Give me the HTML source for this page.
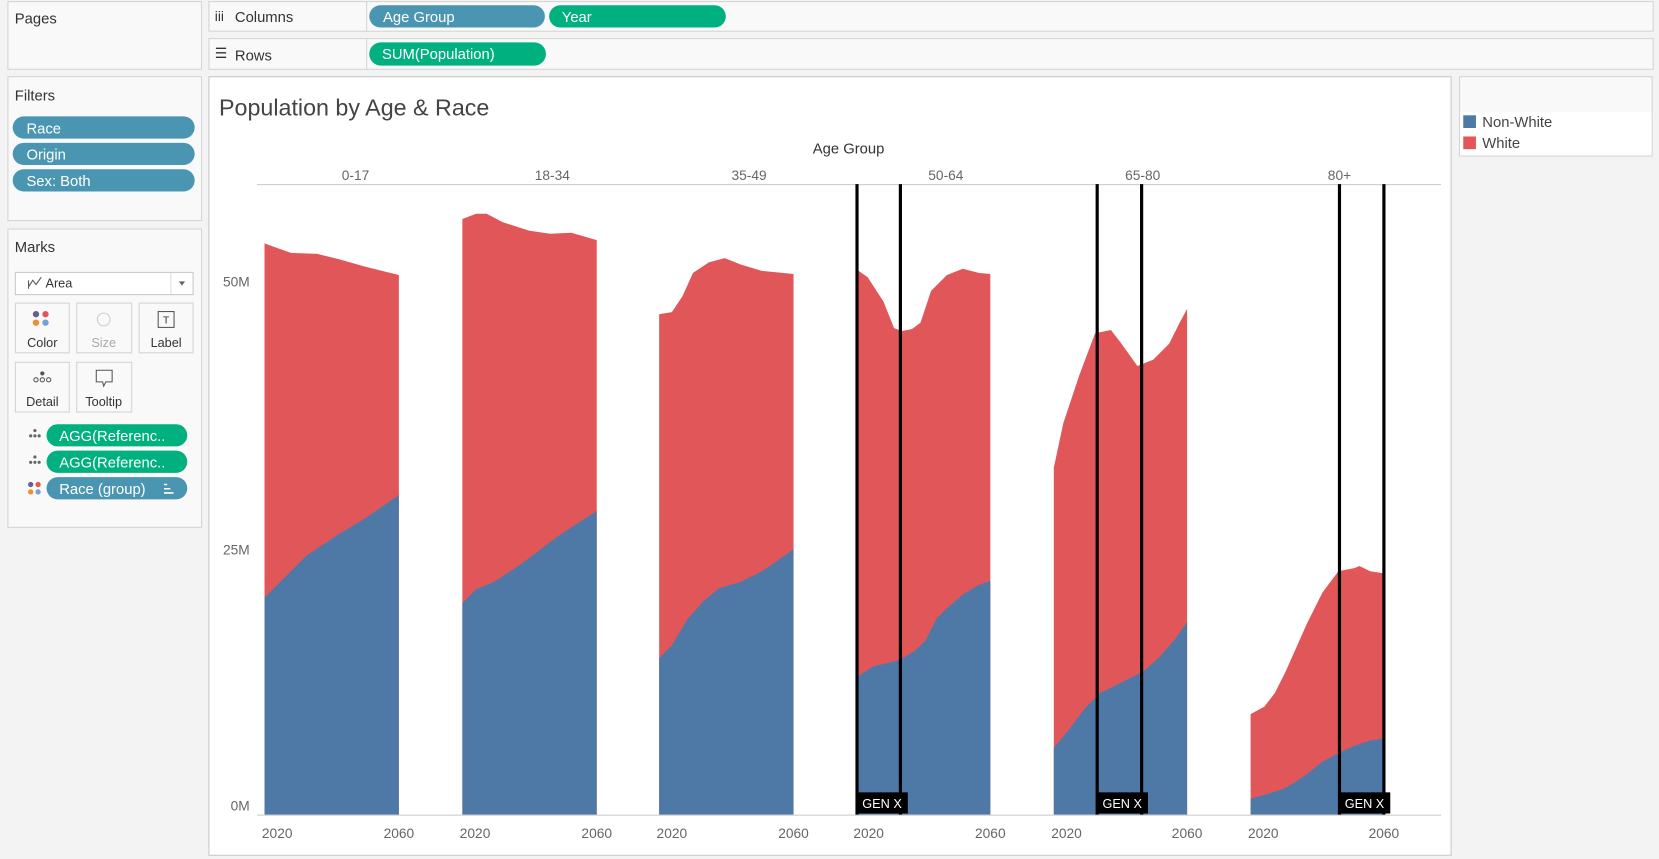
<!DOCTYPE html>
<html><head><meta charset="utf-8"><style>
html,body{margin:0;padding:0;background:#f3f3f3;overflow:hidden}
svg{display:block}
text{font-family:"Liberation Sans",sans-serif}
</style></head><body>
<svg width="1659" height="859" viewBox="0 0 1568 812" preserveAspectRatio="none" xmlns="http://www.w3.org/2000/svg">
<rect x="0" y="0" width="1568" height="812" fill="#f3f3f3"/>
<!-- Pages -->
<rect x="7.5" y="1.5" width="183" height="64" fill="#f9f9f9" stroke="#d4d4d4"/>
<text x="14" y="22" font-size="14" fill="#333">Pages</text>
<!-- Columns/Rows -->
<rect x="197.5" y="1.5" width="1365" height="28" fill="#f9f9f9" stroke="#d4d4d4"/>
<line x1="346.5" y1="1" x2="346.5" y2="30" stroke="#d4d4d4"/>
<text x="203" y="20" font-size="13" fill="#333">iii</text>
<text x="222" y="21" font-size="14" fill="#333">Columns</text>
<rect x="349" y="5" width="166" height="21" rx="10.5" fill="#4a96b2"/>
<text x="362" y="21" font-size="14" fill="#fff">Age Group</text>
<rect x="519" y="5" width="167" height="21" rx="10.5" fill="#00b07e"/>
<text x="531" y="21" font-size="14" fill="#fff">Year</text>
<rect x="197.5" y="36.5" width="1365" height="29" fill="#f9f9f9" stroke="#d4d4d4"/>
<line x1="346.5" y1="36" x2="346.5" y2="66" stroke="#d4d4d4"/>
<text x="203" y="55" font-size="13" fill="#333">☰</text>
<text x="222" y="57" font-size="14" fill="#333">Rows</text>
<rect x="349" y="40" width="167" height="22" rx="11" fill="#00b07e"/>
<text x="361" y="56" font-size="14" fill="#fff">SUM(Population)</text>
<!-- Filters -->
<rect x="7.5" y="72.5" width="183" height="136" fill="#f9f9f9" stroke="#d4d4d4"/>
<text x="14" y="95" font-size="14" fill="#333">Filters</text>
<rect x="12" y="110" width="172" height="21" rx="10.5" fill="#4a96b2"/>
<text x="25" y="126" font-size="14" fill="#fff">Race</text>
<rect x="12" y="135" width="172" height="21" rx="10.5" fill="#4a96b2"/>
<text x="25" y="151" font-size="14" fill="#fff">Origin</text>
<rect x="12" y="160" width="172" height="21" rx="10.5" fill="#4a96b2"/>
<text x="25" y="176" font-size="14" fill="#fff">Sex: Both</text>
<!-- Marks -->
<rect x="7.5" y="216.5" width="183" height="282" fill="#f9f9f9" stroke="#d4d4d4"/>
<text x="14" y="238" font-size="14" fill="#333">Marks</text>
<rect x="14.5" y="257.5" width="168" height="21" fill="#fff" stroke="#c8c8c8"/>
<line x1="161.5" y1="258" x2="161.5" y2="278" stroke="#ddd"/>
<path d="M27 273 L27 265 M27 271 L31 265 L34 269 L39 262" stroke="#555" fill="none"/>
<text x="43" y="272" font-size="12" fill="#333">Area</text>
<path d="M169 266 L175 266 L172 270 Z" fill="#666"/>
<g font-size="12" fill="#333" text-anchor="middle">
<rect x="14.5" y="286.5" width="51" height="47" fill="#f9f9f9" stroke="#d4d4d4"/>
<circle cx="34" cy="297" r="3" fill="#6b5b95"/><circle cx="43" cy="297" r="3" fill="#e15759"/><circle cx="34" cy="305" r="3" fill="#f28e2b"/><circle cx="43" cy="305" r="3" fill="#76a1d6"/>
<text x="40" y="328">Color</text>
<rect x="72.5" y="286.5" width="52" height="47" fill="#f9f9f9" stroke="#d4d4d4"/>
<circle cx="98" cy="302" r="6" fill="none" stroke="#ccc"/>
<text x="98" y="328" fill="#aaa">Size</text>
<rect x="131.5" y="286.5" width="51" height="47" fill="#f9f9f9" stroke="#d4d4d4"/>
<rect x="149.5" y="294.5" width="15" height="15" fill="none" stroke="#555"/><text x="157" y="306" font-size="10">T</text>
<text x="157" y="328">Label</text>
<rect x="14.5" y="342.5" width="51" height="47" fill="#f9f9f9" stroke="#d4d4d4"/>
<circle cx="40" cy="353" r="2" fill="#555"/><circle cx="34" cy="359" r="2" fill="none" stroke="#555"/><circle cx="40" cy="359" r="2" fill="none" stroke="#555"/><circle cx="46" cy="359" r="2" fill="none" stroke="#555"/>
<text x="40" y="384">Detail</text>
<rect x="72.5" y="342.5" width="52" height="47" fill="#f9f9f9" stroke="#d4d4d4"/>
<path d="M91 350 H106 V361 H100 L98 365 L97 361 H91 Z" fill="none" stroke="#555"/>
<text x="98" y="384">Tooltip</text>
</g>
<g fill="#666"><circle cx="33" cy="407" r="1.5"/><circle cx="29" cy="412" r="1.5"/><circle cx="33" cy="412" r="1.5"/><circle cx="37" cy="412" r="1.5"/>
<circle cx="33" cy="432" r="1.5"/><circle cx="29" cy="437" r="1.5"/><circle cx="33" cy="437" r="1.5"/><circle cx="37" cy="437" r="1.5"/></g>
<rect x="44" y="401" width="133" height="21" rx="10.5" fill="#00b07e"/>
<text x="56" y="417" font-size="14" fill="#fff">AGG(Referenc..</text>
<rect x="44" y="426" width="133" height="21" rx="10.5" fill="#00b07e"/>
<text x="56" y="442" font-size="14" fill="#fff">AGG(Referenc..</text>
<circle cx="29" cy="458" r="2.5" fill="#6b5b95"/><circle cx="36" cy="458" r="2.5" fill="#e15759"/><circle cx="29" cy="465" r="2.5" fill="#f28e2b"/><circle cx="36" cy="465" r="2.5" fill="#76a1d6"/>
<rect x="44" y="451" width="133" height="21" rx="10.5" fill="#4a96b2"/>
<text x="56" y="467" font-size="14" fill="#fff">Race (group)</text>
<path d="M155 458 h3 M155 462 h6 M155 466 h9" stroke="#fff" stroke-width="1.5"/>
<!-- Chart panel -->
<rect x="197.5" y="72.5" width="1174" height="736" fill="#fff" stroke="#c8c8c8"/>
<text x="207" y="109" font-size="22" fill="#444">Population by Age &amp; Race</text>
<text x="802" y="145" font-size="14" fill="#333" text-anchor="middle">Age Group</text>
<g font-size="13" fill="#666" text-anchor="middle">
<text x="336" y="170">0-17</text><text x="522" y="170">18-34</text><text x="708" y="170">35-49</text>
<text x="894" y="170">50-64</text><text x="1080" y="170">65-80</text><text x="1266" y="170">80+</text>
</g>
<line x1="243" y1="174.5" x2="1362" y2="174.5" stroke="#c8c8c8"/>
<g font-size="13" fill="#666" text-anchor="end">
<text x="236" y="271">50M</text><text x="236" y="524">25M</text><text x="236" y="766">0M</text>
</g>
<!-- areas: red -->
<g fill="#e15759">
<path d="M250 770 L250 230 258 233 275 239 300 240 320 245 345 252 377 260 377 770Z"/>
<path d="M437 770 L437 207 450 202 460 202 475 210 500 218 520 221 540 220 564 227 564 770Z"/>
<path d="M623 770 L623 297 635 295 645 280 655 258 670 248 685 244 700 250 720 256 750 259 750 770Z"/>
<path d="M810 770 L810 255 820 262 835 285 845 310 852 313 862 311 870 305 880 275 895 260 910 254 925 258 936 259 936 770Z"/>
<path d="M996 770 L996 442 1005 400 1020 355 1035 315 1050 312 1060 325 1075 346 1090 340 1105 325 1115 305 1122 292 1122 770Z"/>
<path d="M1182 770 L1182 675 1195 668 1205 655 1215 635 1235 590 1250 560 1265 540 1280 537 1285 535 1295 540 1308 542 1308 770Z"/>
</g>
<g fill="#4e79a7">
<path d="M250 770 L250 565 260 555 290 525 320 505 345 490 377 468 377 770Z"/>
<path d="M437 770 L437 570 450 557 467 550 490 535 510 520 530 505 564 483 564 770Z"/>
<path d="M623 770 L623 622 635 610 650 585 665 568 680 556 700 550 720 540 735 530 750 519 750 770Z"/>
<path d="M810 770 L810 640 825 630 850 624 865 615 875 605 885 585 895 575 910 562 925 553 936 549 936 770Z"/>
<path d="M996 770 L996 707 1010 690 1025 670 1040 655 1060 645 1080 635 1095 622 1110 605 1122 588 1122 770Z"/>
<path d="M1182 770 L1182 755 1200 750 1215 745 1235 732 1250 720 1265 712 1280 705 1295 700 1308 698 1308 770Z"/>
</g>
<line x1="243" y1="770.5" x2="1362" y2="770.5" stroke="#c8c8c8"/>
<g stroke="#000" stroke-width="3">
<line x1="810" y1="174" x2="810" y2="770"/><line x1="851" y1="174" x2="851" y2="770"/>
<line x1="1037" y1="174" x2="1037" y2="770"/><line x1="1079" y1="174" x2="1079" y2="770"/>
<line x1="1266" y1="174" x2="1266" y2="770"/><line x1="1308" y1="174" x2="1308" y2="770"/>
</g>
<g>
<rect x="810" y="749" width="48" height="20" fill="#000"/><text x="815" y="764" font-size="12" fill="#fff">GEN X</text>
<rect x="1037" y="749" width="48" height="20" fill="#000"/><text x="1042" y="764" font-size="12" fill="#fff">GEN X</text>
<rect x="1266" y="749" width="48" height="20" fill="#000"/><text x="1271" y="764" font-size="12" fill="#fff">GEN X</text>
</g>
<g font-size="13" fill="#666" text-anchor="middle">
<text x="262" y="792">2020</text><text x="377" y="792">2060</text>
<text x="449" y="792">2020</text><text x="564" y="792">2060</text>
<text x="635" y="792">2020</text><text x="750" y="792">2060</text>
<text x="821" y="792">2020</text><text x="936" y="792">2060</text>
<text x="1008" y="792">2020</text><text x="1122" y="792">2060</text>
<text x="1194" y="792">2020</text><text x="1308" y="792">2060</text>
</g>
<!-- legend -->
<rect x="1379.5" y="72.5" width="182" height="75" fill="#f9f9f9" stroke="#d4d4d4"/>
<rect x="1380" y="106" width="181" height="41" fill="#fff"/>
<rect x="1383" y="109" width="12" height="12" fill="#4e79a7"/>
<text x="1401" y="120" font-size="14" fill="#444">Non-White</text>
<rect x="1383" y="129" width="12" height="12" fill="#e15759"/>
<text x="1401" y="140" font-size="14" fill="#444">White</text>
</svg>
</body></html>
